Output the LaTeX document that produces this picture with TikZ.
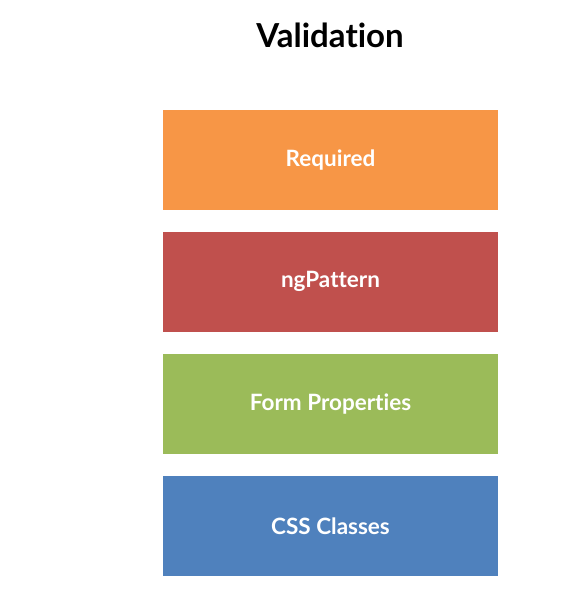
\documentclass[tikz,border=0pt]{standalone}
\usepackage{fontspec}
\setmainfont{Lato}[Ligatures={NoCommon}]
\usetikzlibrary{positioning}

\begin{document}
\begin{tikzpicture}[
  block/.style={fill=#1, draw=none, minimum width=83.75mm, minimum height=25mm,
    inner sep=0pt, align=center, text=white, font=\bfseries\fontsize{16}{19}\selectfont},
  title/.style={font=\bfseries\fontsize{23.5}{27}\selectfont, text=black, inner sep=0pt}
]
\definecolor{VOrange}{HTML}{F79646}
\definecolor{VRed}{HTML}{C0504D}
\definecolor{VGreen}{HTML}{9BBB59}
\definecolor{VBlue}{HTML}{4F81BD}

\useasboundingbox (0,0) rectangle (14.175,-14.85);

\node[title, anchor=base] (valid) at (8.25,-1.2) {Validation};

\node[block=VOrange] (req) at (8.2625,-4.0) {Required};
\node[block=VRed] (ngp) at (8.2625,-7.04) {ngPattern};
\node[block=VGreen] (fprop) at (8.2625,-10.1) {Form Properties};
\node[block=VBlue] (css) at (8.2625,-13.15) {CSS Classes};
\end{tikzpicture}
\end{document}
